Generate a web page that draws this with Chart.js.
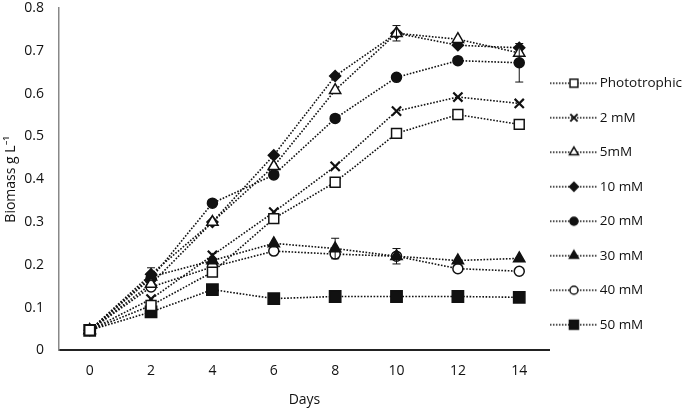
<!DOCTYPE html>
<html lang="en">
<head>
    <meta charset="UTF-8">
    <title>Biomass</title>
    <script src="https://cdn.jsdelivr.net/npm/chart.js@4.4.0/dist/chart.umd.min.js"></script>
    <style>
        html, body { margin: 0; padding: 0; background: #fff; }
        #wrap { width: 685px; height: 408px; position: relative; }
    </style>
</head>
<body>
<div id="wrap"><canvas id="biomassChart"></canvas></div>

<script>
    // Data
    const days = ['0', '2', '4', '6', '8', '10', '12', '14'];
    const seriesNames = ['Phototrophic', '2 mM', '5mM', '10 mM', '20 mM', '30 mM', '40 mM', '50 mM'];
    const phototrophic = [0.047, 0.105, 0.183, 0.308, 0.393, 0.507, 0.551, 0.528];
    const mM2  = [0.047, 0.120, 0.222, 0.323, 0.430, 0.559, 0.592, 0.577];
    const mM5  = [0.047, 0.155, 0.300, 0.430, 0.608, 0.741, 0.727, 0.695];
    const mM10 = [0.047, 0.178, 0.300, 0.456, 0.641, 0.741, 0.713, 0.707];
    const mM20 = [0.047, 0.168, 0.344, 0.410, 0.542, 0.638, 0.677, 0.672];
    const mM30 = [0.047, 0.172, 0.210, 0.250, 0.238, 0.220, 0.210, 0.215];
    const mM40 = [0.047, 0.148, 0.195, 0.232, 0.225, 0.220, 0.191, 0.185];
    const mM50 = [0.047, 0.090, 0.142, 0.121, 0.126, 0.126, 0.126, 0.124];
    // error bars (only the visible ones)
    const err10 = [0, 0.015, 0, 0, 0, 0.018, 0, 0];
    const err20 = [0, 0, 0, 0, 0, 0, 0, 0.045];
    const err30 = [0, 0, 0, 0, 0.024, 0, 0, 0];
    const err40 = [0, 0, 0, 0, 0, 0.018, 0, 0];
    const yTicks = [0, 0.1, 0.2, 0.3, 0.4, 0.5, 0.6, 0.7, 0.8];

    const FONT = "'Open Sans', 'Noto Sans', sans-serif";
    const INK = '#111';

    // marker style per series: [chart.js pointStyle, radius, filled]
    const markers = [
        ['rect', 7, false],
        ['crossRot', 6.5, false],
        ['triangle', 6.5, false],
        ['rectRot', 5.5, true],
        ['circle', 5, true],
        ['triangle', 6.5, true],
        ['circle', 5, false],
        ['rect', 8, true]
    ];
    const values = [phototrophic, mM2, mM5, mM10, mM20, mM30, mM40, mM50];
    const errors = [null, null, null, err10, err20, err30, err40, null];

    // small picture for the legend: dotted line with the marker in the middle
    function drawMarker(ctx, style, x, y, r, filled) {
        ctx.beginPath();
        if (style === 'rect') {
            const s = Math.SQRT1_2 * r;
            ctx.rect(x - s, y - s, 2 * s, 2 * s);
        } else if (style === 'rectRot') {
            ctx.moveTo(x, y - r); ctx.lineTo(x + r, y); ctx.lineTo(x, y + r); ctx.lineTo(x - r, y); ctx.closePath();
        } else if (style === 'circle') {
            ctx.arc(x, y, r, 0, Math.PI * 2);
        } else if (style === 'triangle') {
            ctx.moveTo(x, y - r);
            ctx.lineTo(x + r * 0.866, y + r * 0.5);
            ctx.lineTo(x - r * 0.866, y + r * 0.5);
            ctx.closePath();
        } else if (style === 'crossRot') {
            const s = r * 0.7;
            ctx.moveTo(x - s, y - s); ctx.lineTo(x + s, y + s);
            ctx.moveTo(x + s, y - s); ctx.lineTo(x - s, y + s);
            ctx.lineWidth = 2;
            ctx.strokeStyle = INK;
            ctx.stroke();
            return;
        }
        ctx.fillStyle = filled ? INK : '#fff';
        ctx.fill();
        ctx.lineWidth = 1.5;
        ctx.strokeStyle = INK;
        ctx.stroke();
    }

    function legendImage(m) {
        const c = document.createElement('canvas');
        c.width = 64; c.height = 16;
        const ctx = c.getContext('2d');
        ctx.setLineDash([1.5, 1.5]);
        ctx.lineWidth = 1.5;
        ctx.strokeStyle = INK;
        ctx.beginPath();
        ctx.moveTo(0, 8); ctx.lineTo(48, 8);
        ctx.stroke();
        ctx.setLineDash([]);
        drawMarker(ctx, m[0], 24, 8, m[1] * 0.8, m[2]);
        return c;
    }

    const datasets = seriesNames.map((name, i) => ({
        label: name,
        data: values[i],
        errors: errors[i],
        borderColor: INK,
        borderWidth: 1.6,
        borderDash: [1.6, 1.6],
        pointStyle: markers[i][0],
        pointRadius: markers[i][1],
        pointBorderWidth: markers[i][0] === 'crossRot' ? 2.2 : 1.5,
        pointBorderColor: INK,
        pointBackgroundColor: markers[i][2] ? INK : '#fff',
        fill: false,
        tension: 0,
        legendImg: legendImage(markers[i])
    }));

    // simple error bars
    const errorBars = {
        id: 'errorBars',
        afterDatasetsDraw(chart) {
            const ctx = chart.ctx;
            const y = chart.scales.y;
            chart.data.datasets.forEach((ds, i) => {
                if (!ds.errors) return;
                const meta = chart.getDatasetMeta(i);
                ds.errors.forEach((e, j) => {
                    if (!e) return;
                    const pt = meta.data[j];
                    const top = y.getPixelForValue(ds.data[j] + e);
                    const bot = y.getPixelForValue(ds.data[j] - e);
                    ctx.save();
                    ctx.strokeStyle = INK;
                    ctx.lineWidth = 1;
                    ctx.beginPath();
                    ctx.moveTo(pt.x, top); ctx.lineTo(pt.x, bot);
                    ctx.moveTo(pt.x - 4, top); ctx.lineTo(pt.x + 4, top);
                    ctx.moveTo(pt.x - 4, bot); ctx.lineTo(pt.x + 4, bot);
                    ctx.stroke();
                    ctx.restore();
                });
            });
        }
    };

    new Chart(document.getElementById('biomassChart'), {
        type: 'line',
        data: { labels: days, datasets: datasets },
        plugins: [errorBars],
        options: {
            responsive: true,
            maintainAspectRatio: false,
            animation: false,
            layout: { autoPadding: false, padding: { top: 0, right: -7, bottom: 0, left: 0 } },
            plugins: {
                tooltip: { enabled: false },
                legend: {
                    position: 'right',
                    labels: {
                        usePointStyle: true,
                        pointStyleWidth: 22,
                        padding: 21,
                        color: INK,
                        font: { family: FONT, size: 13.5 },
                        generateLabels(chart) {
                            return chart.data.datasets.map((ds, i) => ({
                                text: ds.label,
                                datasetIndex: i,
                                pointStyle: ds.legendImg,
                                fillStyle: INK,
                                strokeStyle: INK,
                                lineWidth: 0,
                                fontColor: INK,
                                hidden: false
                            }));
                        }
                    }
                }
            },
            scales: {
                x: {
                    offset: true,
                    grid: { display: false, drawTicks: false },
                    border: { display: true, color: '#222', width: 2 },
                    ticks: { color: INK, padding: 12, font: { family: FONT, size: 14 } },
                    title: { display: true, text: 'Days', color: INK, padding: { top: 0, bottom: 0 }, font: { family: FONT, size: 14 } }
                },
                y: {
                    min: 0,
                    max: 0.8,
                    afterBuildTicks(scale) { scale.ticks = yTicks.map(v => ({ value: v })); },
                    afterFit(scale) {
                        scale.width = 59;
                        scale.paddingTop = 8;
                        scale.paddingBottom = 8;
                    },
                    grid: { display: false, drawTicks: false },
                    border: { display: true, color: '#888', width: 1.5 },
                    ticks: {
                        color: INK,
                        padding: 15,
                        font: { family: FONT, size: 14 },
                        callback: v => String(Math.round(v * 10) / 10)
                    },
                    title: { display: true, text: 'Biomass g L⁻¹', color: INK, padding: { top: 3, bottom: 0 }, font: { family: FONT, size: 14 } }
                }
            }
        }
    });
</script>
</body>
</html>
